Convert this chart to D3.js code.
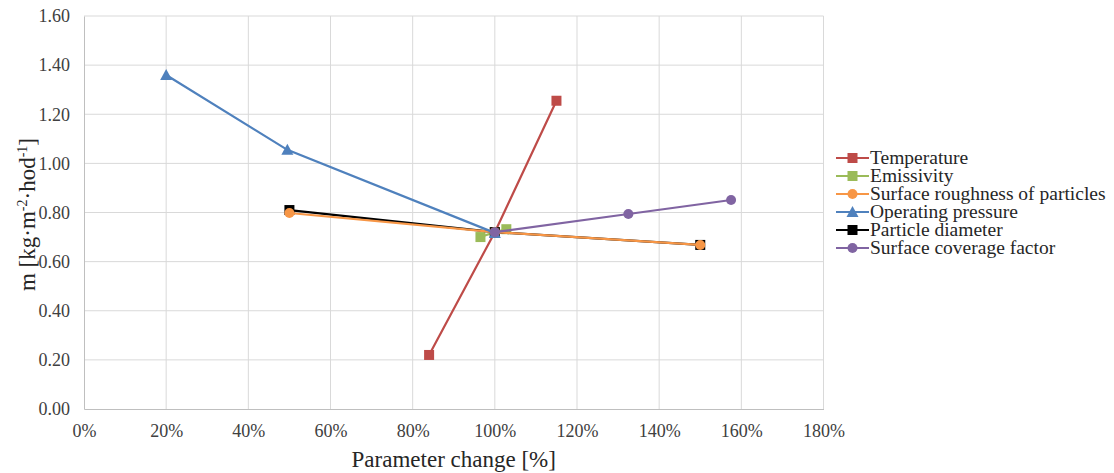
<!DOCTYPE html>
<html>
<head>
<meta charset="utf-8">
<script src="https://cdn.jsdelivr.net/npm/d3@7"></script>
<style>
  body { margin: 0; background: #fff; }
  svg { display: block; }
</style>
</head>
<body>
<div id="chart"></div>
<script>
// values (x = parameter change in %, y = m)
const temperature = [[84, 0.22], [100, 0.72], [115, 1.255]];
const emissivity = [[96.5, 0.70], [100, 0.72], [102.8, 0.732]];
const roughness = [[50, 0.798], [100, 0.72], [150, 0.668]];
const pressure = [[20, 1.36], [49.5, 1.055], [100, 0.717]];
const diameter = [[50, 0.81], [100, 0.72], [150, 0.668]];
const coverage = [[100, 0.72], [132.5, 0.794], [157.5, 0.851]];

const xTicks = [0, 20, 40, 60, 80, 100, 120, 140, 160, 180];
const yTicks = [0, 0.2, 0.4, 0.6, 0.8, 1.0, 1.2, 1.4, 1.6];

const series = [
    { name: "Temperature", data: temperature, color: "#be4b48", marker: "square" },
    { name: "Emissivity", data: emissivity, color: "#9bbb59", marker: "square" },
    { name: "Surface roughness of particles", data: roughness, color: "#f79646", marker: "circle" },
    { name: "Operating pressure", data: pressure, color: "#4f81bd", marker: "triangle" },
    { name: "Particle diameter", data: diameter, color: "#000000", marker: "square" },
    { name: "Surface coverage factor", data: coverage, color: "#8064a2", marker: "circle" }
];
// black is drawn under orange in the reference
const drawOrder = [0, 1, 4, 2, 3, 5];

const W = 1114, H = 473;
const plotL = 84, plotR = 823.5, plotT = 16, plotB = 409;
const font = '"Liberation Serif", "Times New Roman", serif';

const svg = d3.select("#chart").append("svg")
    .attr("width", W).attr("height", H);

const x = d3.scaleLinear().domain([0, 180]).range([plotL, plotR]);
const y = d3.scaleLinear().domain([0, 1.6]).range([plotB, plotT]);

// grid
svg.append("g").selectAll("line")
    .data(yTicks.slice(1))
    .enter().append("line")
    .attr("x1", plotL).attr("x2", plotR)
    .attr("y1", d => y(d)).attr("y2", d => y(d))
    .attr("stroke", "#d9d9d9").attr("stroke-width", 1);

svg.append("g").selectAll("line")
    .data(xTicks.slice(1))
    .enter().append("line")
    .attr("x1", d => x(d)).attr("x2", d => x(d))
    .attr("y1", plotT).attr("y2", plotB)
    .attr("stroke", "#d9d9d9").attr("stroke-width", 1);

// axes (Excel style, no ticks)
const xAxis = svg.append("g")
    .attr("transform", `translate(0,${plotB})`)
    .call(d3.axisBottom(x).tickValues(xTicks).tickSize(0).tickPadding(15)
        .tickFormat(d => d + "%"));
const yAxis = svg.append("g")
    .attr("transform", `translate(${plotL},0)`)
    .call(d3.axisLeft(y).tickValues(yTicks).tickSize(0).tickPadding(14)
        .tickFormat(d3.format(".2f")));

[xAxis, yAxis].forEach(a => {
    a.select(".domain").attr("stroke", "#bfbfbf");
    a.selectAll("text")
        .style("font-family", font)
        .style("font-size", "18px")
        .attr("fill", "#404040");
});

svg.append("text")
    .attr("x", (plotL + plotR) / 2).attr("y", 467)
    .attr("text-anchor", "middle")
    .style("font-family", font).style("font-size", "23px")
    .attr("fill", "#262626")
    .text("Parameter change [%]");

const yLabel = svg.append("text")
    .attr("transform", `translate(35,${(plotT + plotB) / 2 + 2}) rotate(-90)`)
    .attr("text-anchor", "middle")
    .style("font-family", font).style("font-size", "23px")
    .attr("fill", "#262626");
yLabel.append("tspan").text("m [kg·m");
yLabel.append("tspan").attr("dy", -8).style("font-size", "14px").text("-2");
yLabel.append("tspan").attr("dy", 8).text("·hod");
yLabel.append("tspan").attr("dy", -8).style("font-size", "14px").text("-1");
yLabel.append("tspan").attr("dy", 8).text("]");

function drawMarker(sel, type, color) {
    if (type === "square") {
        sel.append("rect").attr("x", -5).attr("y", -5).attr("width", 10).attr("height", 10)
            .attr("fill", color);
    } else if (type === "circle") {
        sel.append("circle").attr("r", 5).attr("fill", color);
    } else {
        sel.append("path").attr("d", "M0,-6L6,5L-6,5Z").attr("fill", color);
    }
}

const line = d3.line().x(d => x(d[0])).y(d => y(d[1]));

drawOrder.forEach(i => {
    const s = series[i];
    const g = svg.append("g");
    g.append("path")
        .datum(s.data)
        .attr("fill", "none")
        .attr("stroke", s.color)
        .attr("stroke-width", 2.2)
        .attr("d", line);
    g.selectAll("g")
        .data(s.data)
        .enter().append("g")
        .attr("transform", d => `translate(${x(d[0])},${y(d[1])})`)
        .each(function () { drawMarker(d3.select(this), s.marker, s.color); });
});

// legend
const legend = svg.append("g").attr("transform", "translate(836,158)");
const rows = legend.selectAll("g")
    .data(series)
    .enter().append("g")
    .attr("transform", (d, i) => `translate(0,${i * 18})`);
rows.append("line")
    .attr("x1", 0).attr("x2", 33)
    .attr("stroke", d => d.color).attr("stroke-width", 2.2);
rows.append("g")
    .attr("transform", "translate(16.5,0)")
    .each(function (d) { drawMarker(d3.select(this), d.marker, d.color); });
rows.append("text")
    .attr("x", 34).attr("dy", "0.33em")
    .style("font-family", font).style("font-size", "19.5px")
    .attr("fill", "#262626")
    .text(d => d.name);
</script>
</body>
</html>
